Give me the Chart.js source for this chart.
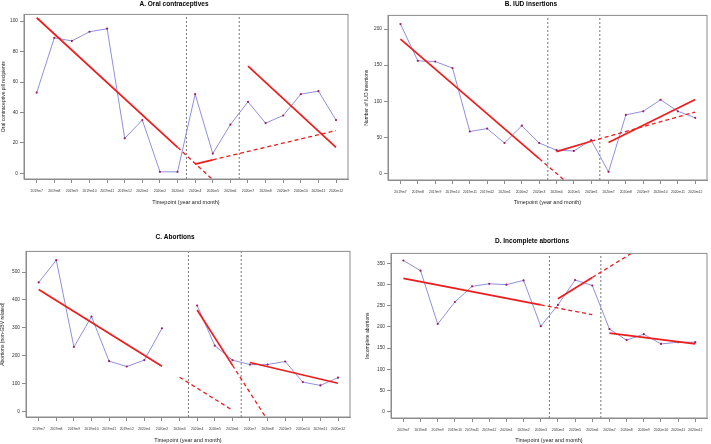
<!DOCTYPE html>
<html lang="en">
<head>
<meta charset="UTF-8">
<title>Interrupted time series</title>
<script src="https://cdn.jsdelivr.net/npm/chart.js"></script>
<style>
    body { margin: 0; padding: 0; background: #fff; }
    .panel { position: absolute; width: 355px; height: 222px; }
</style>
</head>
<body>
<div class="panel" style="left:0;top:0"><canvas id="chartA"></canvas></div>
<div class="panel" style="left:355px;top:0;width:356px"><canvas id="chartB"></canvas></div>
<div class="panel" style="left:0;top:222px"><canvas id="chartC"></canvas></div>
<div class="panel" style="left:355px;top:222px;width:356px"><canvas id="chartD"></canvas></div>
<script>
const xLabels = ['2019m7','2019m8','2019m9','2019m10','2019m11','2019m12','2020m1','2020m2','2020m3',
                 '2020m4','2020m5','2020m6','2020m7','2020m8','2020m9','2020m10','2020m11','2020m12'];
const breaks = [8.5, 11.5];

// A. oral contraceptives
const oralValues = [53, 89, 87, 93, 95, 23, 35, 1, 1, 52, 13, 32, 47, 33, 38, 52, 54, 35];
const oralPre = [[0, 102.2], [8, 17.1]];
const oralPreCf = [[8, 17.1], [10, -4.2]];
const oralMid = [[9, 6.1], [10, 8.9]];
const oralMidCf = [[10, 8.9], [17, 28.1]];
const oralPost = [[12, 70.4], [17, 17.1]];
const oralTicks = [0, 20, 40, 60, 80, 100];

// B. IUD insertions
const iudValues = [207, 156, 155, 146, 58, 62, 42, 66, 42, 32, 31, 46, 2, 81, 86, 102, 86, 77];
const iudPre = [[0, 186], [8, 20.4]];
const iudPreCf = [[8, 20.4], [9.45, -9.5]];
const iudMid = [[9, 30.1], [11, 44.5]];
const iudMidCf = [[11, 44.5], [17, 85]];
const iudPost = [[12, 42.6], [17, 102.3]];
const iudTicks = [0, 50, 100, 150, 200];

// C. abortions (non-GBV related), 2020m3 missing
const abortValues = [463, 543, 231, 340, 180, 161, 184, 298, null, 380, 236, 184, 168, 168, 179, 105, 93, 121];
const abortPre = [[0, 437.5], [7, 162]];
const abortPreCf = [[8, 122.6], [10.9, 8]];
const abortMid = [[9, 364], [11, 166]];
const abortMidCf = [[11, 166], [13, -32]];
const abortPost = [[12, 175.5], [17, 101]];
const abortTicks = [0, 100, 200, 300, 400, 500];

// D. incomplete abortions
const incValues = [357, 333, 207, 259, 296, 302, 300, 310, 202, 252, 311, 298, 195, 169, 183, 160, 164, 164];
const incPre = [[0, 315], [8, 252.4]];
const incPreCf = [[8, 252.4], [11, 229]];
const incMid = [[9, 266.7], [11, 317]];
const incMidCf = [[11, 317], [14, 392]];
const incPost = [[12, 185.7], [17, 160.3]];
const incTicks = [0, 50, 100, 150, 200, 250, 300, 350];

const FONT = 'Liberation Sans, Arial, sans-serif';

const boxPlugin = {
    id: 'box',
    afterDraw(chart) {
        const a = chart.chartArea, c = chart.ctx;
        c.save();
        c.strokeStyle = '#8c8c8c';
        c.lineWidth = 1;
        c.strokeRect(a.left, a.top, a.right - a.left, a.bottom - a.top);
        c.restore();
    }
};

function trend(pts, dashed) {
    return {
        data: pts.map(p => ({x: p[0], y: p[1]})),
        borderColor: '#ee1c1c',
        borderWidth: dashed ? 1.3 : 1.7,
        borderDash: dashed ? [4, 3] : [],
        pointRadius: 0,
        fill: false
    };
}

function makePanel(id, p) {
    const datasets = [];
    p.trends.forEach(t => datasets.push(trend(t[0], t[1])));
    datasets.push({
        data: p.values.map((v, i) => ({x: i, y: v})),
        borderColor: '#8f8fe0',
        borderWidth: 1,
        pointRadius: 1.1,
        pointBackgroundColor: '#a3195b',
        pointBorderWidth: 0,
        spanGaps: false,
        fill: false
    });
    breaks.forEach(b => datasets.push({
        data: [{x: b, y: p.yMin}, {x: b, y: p.yMax}],
        borderColor: '#555',
        borderWidth: 0.8,
        borderDash: [2, 2],
        pointRadius: 0
    }));

    new Chart(document.getElementById(id), {
        type: 'line',
        data: {datasets: datasets},
        plugins: [boxPlugin],
        options: {
            responsive: true,
            maintainAspectRatio: false,
            animation: false,
            layout: {padding: {left: 0, right: p.right, top: 0, bottom: 0}},
            plugins: {
                legend: {display: false},
                tooltip: {enabled: false},
                title: {
                    display: true,
                    text: p.title,
                    color: '#000',
                    font: {family: FONT, size: 6.5, weight: 'bold'},
                    padding: {top: p.titleTop, bottom: p.titleBottom}
                }
            },
            scales: {
                x: {
                    type: 'linear',
                    min: -0.72,
                    max: 17.68,
                    afterBuildTicks: s => { s.ticks = xLabels.map((_, i) => ({value: i})); },
                    afterFit: s => { s.height = p.xHeight; },
                    ticks: {
                        callback: v => xLabels[v],
                        autoSkip: false,
                        maxRotation: 0,
                        minRotation: 0,
                        padding: 6,
                        color: '#333',
                        font: {family: FONT, size: 3.4}
                    },
                    grid: {drawOnChartArea: false, tickLength: 4, color: '#8c8c8c'},
                    border: {color: '#8c8c8c'},
                    title: {
                        display: true,
                        text: 'Timepoint (year and month)',
                        color: '#222',
                        font: {family: FONT, size: 5.5},
                        padding: {top: 0, bottom: p.xTitlePad}
                    }
                },
                y: {
                    min: p.yMin,
                    max: p.yMax,
                    afterBuildTicks: s => { s.ticks = p.ticks.map(v => ({value: v})); },
                    afterFit: s => { s.width = p.yWidth; },
                    ticks: {
                        padding: 2,
                        color: '#333',
                        font: {family: FONT, size: 4.8}
                    },
                    grid: {drawOnChartArea: false, tickLength: 4, color: '#8c8c8c'},
                    border: {color: '#8c8c8c'},
                    title: {
                        display: true,
                        text: p.yTitle,
                        color: '#222',
                        font: {family: FONT, size: 5},
                        padding: {top: p.yTitlePad, bottom: 0}
                    }
                }
            }
        }
    });
}

makePanel('chartA', {
    title: 'A. Oral contraceptives', yTitle: 'Oral contraceptive pill recipients',
    values: oralValues, ticks: oralTicks, yMin: -3.7, yMax: 104.4,
    trends: [[oralPre, false], [oralPreCf, true], [oralMid, false], [oralMidCf, true], [oralPost, false]],
    yWidth: 24, xHeight: 43, right: 7, titleTop: 0, titleBottom: 6.6, xTitlePad: 16.4, yTitlePad: 0.5
});
makePanel('chartB', {
    title: 'B. IUD insertions', yTitle: 'Number of IUD insertions',
    values: iudValues, ticks: iudTicks, yMin: -9.3, yMax: 219,
    trends: [[iudPre, false], [iudPreCf, true], [iudMid, false], [iudMidCf, true], [iudPost, false]],
    yWidth: 33, xHeight: 42, right: 4, titleTop: 0, titleBottom: 7.6, xTitlePad: 16.4, yTitlePad: 8.4
});
makePanel('chartC', {
    title: 'C. Abortions', yTitle: 'Abortions (non-GBV related)',
    values: abortValues, ticks: abortTicks, yMin: -20.4, yMax: 574.5,
    trends: [[abortPre, false], [abortPreCf, true], [abortMid, false], [abortMidCf, true], [abortPost, false]],
    yWidth: 26, xHeight: 27, right: 5, titleTop: 11.8, titleBottom: 9.8, xTitlePad: 0.4, yTitlePad: 0
});
makePanel('chartD', {
    title: 'D. Incomplete abortions', yTitle: 'Incomplete abortions',
    values: incValues, ticks: incTicks, yMin: -15, yMax: 373.8,
    trends: [[incPre, false], [incPreCf, true], [incMid, false], [incMidCf, true], [incPost, false]],
    yWidth: 36, xHeight: 26, right: 2, titleTop: 15.1, titleBottom: 8.5, xTitlePad: 0.4, yTitlePad: 9.4
});
</script>
</body>
</html>
